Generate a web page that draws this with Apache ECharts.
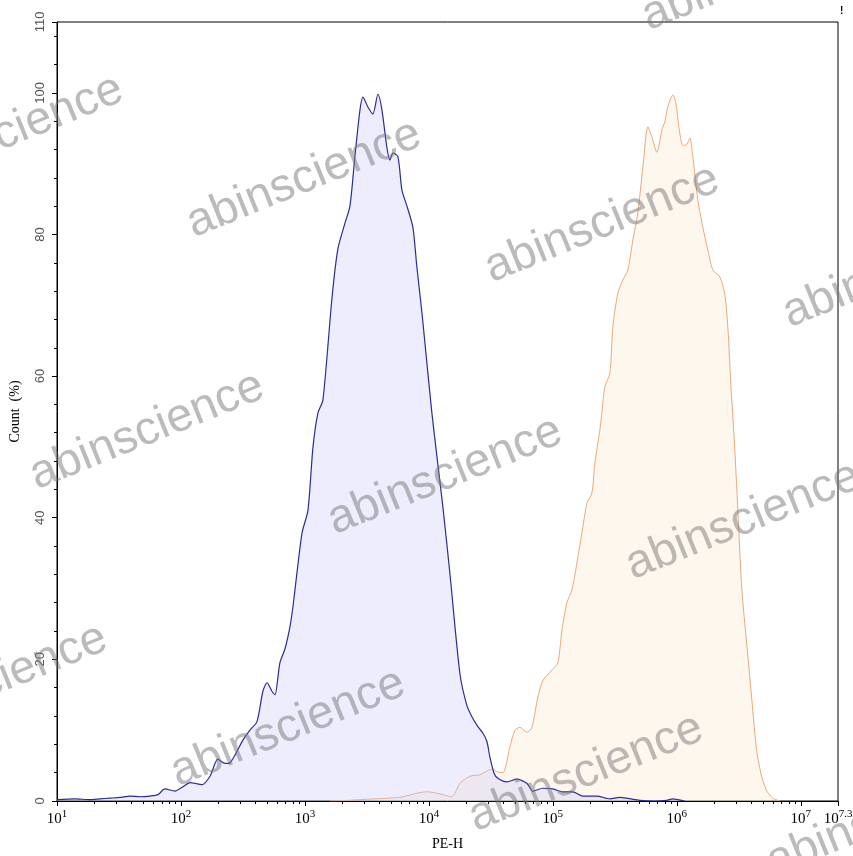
<!DOCTYPE html>
<html>
<head>
<meta charset="utf-8">
<script src="https://cdn.jsdelivr.net/npm/echarts@6.0.0/dist/echarts.min.js"></script>
<style>
html,body{margin:0;padding:0;background:#fff;}
#chart{width:853px;height:856px;}
</style>
</head>
<body>
<div id="chart"></div>
<script>
// ---- Data (x values are log10 of PE-H intensity) ----
var blueLog = [1.00,1.145,1.266,1.347,1.427,1.508,1.589,1.669,1.750,1.815,1.871,1.952,2.016,2.073,2.169,2.234,2.298,2.355,2.395,2.500,2.556,2.613,2.661,2.694,2.734,2.758,2.798,2.839,2.879,2.903,2.976,3.024,3.065,3.105,3.145,3.218,3.266,3.323,3.363,3.403,3.444,3.468,3.508,3.548,3.589,3.621,3.661,3.685,3.710,3.750,3.782,3.823,3.871,3.903,3.944,3.984,4.024,4.065,4.113,4.169,4.250,4.306,4.347,4.395,4.435,4.468,4.492,4.524,4.556,4.629,4.710,4.790,4.839,4.919,5.000,5.081,5.161,5.242,5.355,5.460,5.540,5.702,5.823,5.919,5.968,6.008,6.065];
var blueCount = [0.2,0.3,0.2,0.3,0.4,0.5,0.7,0.6,0.7,0.9,1.7,1.4,2.0,2.6,2.3,3.5,5.9,5.3,5.4,8.6,10,11.2,15.5,16.7,15.5,15,19.5,21.5,24.6,27.4,37.8,41,50,54.8,56.6,71,78,81.6,84,91,97.6,99.4,98.0,97,99.8,97.6,92.3,90.5,91.5,91,86.3,84,81,75.4,68.9,61.8,54.8,48.6,41.5,32.2,18,13.5,11.9,10.5,9.6,8.4,6.2,4,3.2,2.7,3.1,2.5,1.4,1.8,1.7,1.3,1.3,0.7,0.7,0.3,0.5,0.1,0,0.1,0.3,0.2,0];

var orangeLog = [3.202,3.363,3.548,3.685,3.790,3.903,3.984,4.089,4.185,4.250,4.331,4.411,4.508,4.556,4.597,4.653,4.694,4.734,4.790,4.831,4.879,4.919,4.992,5.040,5.073,5.113,5.153,5.194,5.234,5.274,5.315,5.339,5.379,5.395,5.419,5.460,5.484,5.524,5.565,5.605,5.645,5.685,5.726,5.766,5.798,5.839,5.879,5.903,5.927,5.968,5.992,6.016,6.048,6.073,6.105,6.129,6.169,6.210,6.250,6.290,6.347,6.387,6.411,6.435,6.460,6.484,6.524,6.565,6.605,6.645,6.685,6.726,6.774,6.831];
var orangeCount = [0,0.1,0.3,0.4,0.6,1.1,1.3,1.0,0.6,2.5,3.5,3.7,4.5,4.1,4.0,7.6,10,10.4,9.7,10.4,14.7,17,18.5,19.5,24.1,28,29.8,33.6,37.8,42,43.5,47.7,52.4,54.8,58.5,60.4,67,71.7,73.6,75,79.2,83,89.5,95.2,93.8,91.6,94.7,95.9,98,99.7,98.6,95.2,92.6,92.6,93.6,91,84.9,81,77.8,75,74,71.5,67,59,52,44,30,22,14.3,7,3.4,1.4,0.4,0];

var xMajorTicks = [1,2,3,4,5,6,7,7.3];
var yMajorTicks = [0,20,40,60,80,100,110];

// ---- derived helpers ----
function pairs(xs, ys){ return xs.map(function(x,i){ return [x, ys[i]]; }); }
var xMinorTicks = [];
for (var n = 1; n <= 6; n++) for (var k = 2; k <= 9; k++) xMinorTicks.push(n + Math.log10(k));
var yMinorTicks = [];
for (var v = 4; v < 110; v += 4) if (v % 20 !== 0) yMinorTicks.push(v);

// watermark lattice
var wm = [];
var base = [304,179], a = [298,45], b = [141,297];
for (var i = -3; i <= 3; i++) for (var j = -3; j <= 3; j++) {
  var cx = base[0] + i*a[0] + j*b[0], cy = base[1] + i*a[1] + j*b[1];
  if (cx > -160 && cx < 1010 && cy > -120 && cy < 980) {
    wm.push({
      type: 'text', x: cx, y: cy, rotation: 22*Math.PI/180, z: 100, silent: true,
      style: { text: 'abinscience', font: '47px "Liberation Sans", Arial, sans-serif',
               fill: 'rgba(120,120,120,0.5)', align: 'center', verticalAlign: 'middle' }
    });
  }
}
wm.push({type:'text', x: 840, y: 6, z: 100, style:{text:'!', font:'bold 10px "Liberation Sans"', fill:'#000'}});

function xFmt(v){
  var e = Math.round(v*10)/10;
  return '{b|10}{s|' + e + '}';
}

var chart = echarts.init(document.getElementById('chart'));
chart.setOption({
  animation: false,
  backgroundColor: '#fff',
  grid: { left: 57, right: 15, top: 22, bottom: 55, outerBoundsMode: 'none', containLabel: false,
          show: true, borderColor: '#000', borderWidth: 1, backgroundColor: 'transparent' },
  graphic: wm,
  xAxis: [
    { type: 'value', min: 1, max: 7.3, position: 'bottom',
      name: 'PE-H', nameLocation: 'middle', nameGap: 36,
      nameTextStyle: { fontFamily: '"Liberation Serif", serif', fontSize: 14, color: '#000' },
      axisLine: { show: true, lineStyle: { color: '#000', width: 1 } },
      axisTick: { show: true, length: 5, customValues: xMajorTicks, lineStyle: { color: '#000' } },
      axisLabel: { customValues: xMajorTicks, formatter: xFmt, margin: 8, showMinLabel: true, showMaxLabel: true,
        rich: { b: { fontFamily: '"Liberation Serif", serif', fontSize: 15, color: '#000', verticalAlign: 'bottom' },
                s: { fontFamily: '"Liberation Serif", serif', fontSize: 11, color: '#000', verticalAlign: 'top', padding: [0,0,7,0] } } },
      splitLine: { show: false } },
    { type: 'value', min: 1, max: 7.3, position: 'bottom', offset: 0,
      axisLine: { show: false },
      axisTick: { show: true, length: 3, customValues: xMinorTicks, lineStyle: { color: '#000' } },
      axisLabel: { show: false }, splitLine: { show: false } }
  ],
  yAxis: [
    { type: 'value', min: 0, max: 110, position: 'left',
      name: 'Count  (%)', nameLocation: 'middle', nameGap: 35,
      nameTextStyle: { fontFamily: '"Liberation Serif", serif', fontSize: 14, color: '#000' },
      axisLine: { show: true, lineStyle: { color: '#000', width: 1 } },
      axisTick: { show: true, length: 5, customValues: yMajorTicks, lineStyle: { color: '#000' } },
      axisLabel: { customValues: yMajorTicks, rotate: 90, margin: 10, showMaxLabel: true,
        fontFamily: '"Liberation Sans", sans-serif', fontSize: 13, color: '#555' },
      splitLine: { show: false } },
    { type: 'value', min: 0, max: 110, position: 'left', offset: 0,
      axisLine: { show: false },
      axisTick: { show: true, length: 3, customValues: yMinorTicks, lineStyle: { color: '#000' } },
      axisLabel: { show: false }, splitLine: { show: false } }
  ],
  series: [
    { type: 'line', name: 'sample', xAxisIndex: 0, yAxisIndex: 0, data: pairs(orangeLog, orangeCount),
      smooth: 0.25, showSymbol: false, symbol: 'none',
      lineStyle: { color: '#eaa878', width: 1 },
      areaStyle: { color: 'rgba(252,236,215,0.6)' }, z: 2 },
    { type: 'line', name: 'control', xAxisIndex: 0, yAxisIndex: 0, data: pairs(blueLog, blueCount),
      smooth: 0.25, showSymbol: false, symbol: 'none',
      lineStyle: { color: '#2b2b9e', width: 1.2 },
      areaStyle: { color: 'rgba(200,200,248,0.48)' }, z: 3 }
  ]
});
</script>
</body>
</html>
